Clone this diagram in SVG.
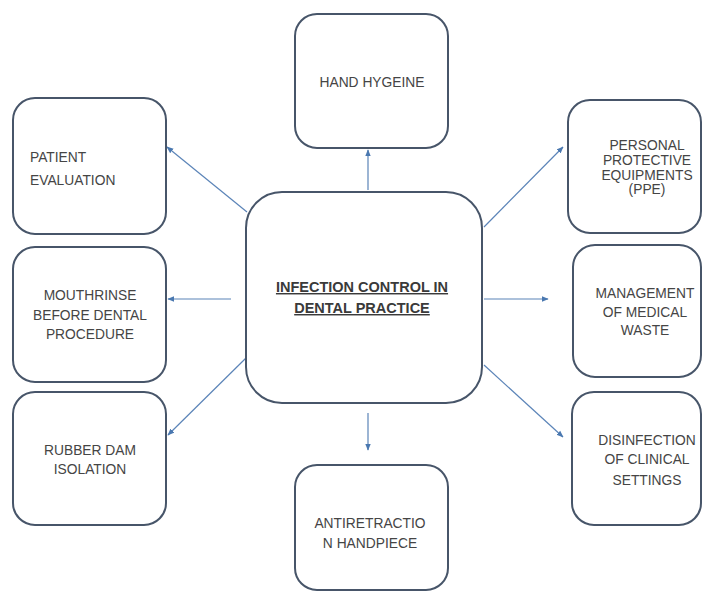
<svg xmlns="http://www.w3.org/2000/svg" width="716" height="596" viewBox="0 0 716 596">
<defs>
<marker id="ah" viewBox="0 0 10 10" refX="9" refY="5" markerWidth="7" markerHeight="7" markerUnits="userSpaceOnUse" orient="auto">
<path d="M0,1 L10,5 L0,9 z" fill="#4a78b0"/>
</marker>
<style>
.box{fill:#ffffff;stroke:#475569;stroke-width:2}
.t{font-family:"Liberation Sans",Arial,sans-serif;font-size:13.8px;fill:#454545;text-anchor:middle}
.tl{text-anchor:start}
.c{font-weight:bold;text-decoration:underline;font-size:14.5px;fill:#3a3a3a}
.con{stroke:#5b84b8;stroke-width:1.2;fill:none;marker-end:url(#ah)}
</style>
</defs>
<rect width="716" height="596" fill="#ffffff"/>
<g id="connectors">
<line class="con" x1="368" y1="190" x2="368" y2="150"/>
<line class="con" x1="247" y1="212" x2="167" y2="147"/>
<line class="con" x1="484" y1="227" x2="563" y2="147"/>
<line class="con" x1="231" y1="299" x2="168" y2="299"/>
<line class="con" x1="484" y1="299" x2="548" y2="299"/>
<line class="con" x1="246" y1="358" x2="168" y2="435"/>
<line class="con" x1="484" y1="365" x2="563" y2="437"/>
<line class="con" x1="368" y1="413" x2="368" y2="450"/>
</g>
<g id="center">
<rect class="box" x="246" y="192" width="236" height="211" rx="36"/>
<text class="t c" x="362" y="292">INFECTION CONTROL IN</text>
<text class="t c" x="362" y="313">DENTAL PRACTICE</text>
</g>
<g id="hand-hygeine">
<rect class="box" x="295" y="14" width="153" height="134" rx="22"/>
<text class="t" x="372" y="87">HAND HYGEINE</text>
</g>
<g id="patient-evaluation">
<rect class="box" x="13" y="98" width="153" height="136" rx="22"/>
<text class="t tl" x="30" y="162">PATIENT</text>
<text class="t tl" x="30" y="185">EVALUATION</text>
</g>
<g id="ppe">
<rect class="box" x="568" y="100" width="133" height="133" rx="22"/>
<text class="t" x="647" y="150">PERSONAL</text>
<text class="t" x="647" y="165">PROTECTIVE</text>
<text class="t" x="647" y="180">EQUIPMENTS</text>
<text class="t" x="647" y="194">(PPE)</text>
</g>
<g id="mouthrinse">
<rect class="box" x="13" y="247" width="153" height="135" rx="22"/>
<text class="t" x="90" y="300">MOUTHRINSE</text>
<text class="t" x="90" y="320">BEFORE DENTAL</text>
<text class="t" x="90" y="339">PROCEDURE</text>
</g>
<g id="medical-waste">
<rect class="box" x="573" y="245" width="128" height="132" rx="22"/>
<text class="t" x="645" y="298">MANAGEMENT</text>
<text class="t" x="645" y="317">OF MEDICAL</text>
<text class="t" x="645" y="335">WASTE</text>
</g>
<g id="rubber-dam">
<rect class="box" x="13" y="392" width="153" height="133" rx="22"/>
<text class="t" x="90" y="455">RUBBER DAM</text>
<text class="t" x="90" y="474">ISOLATION</text>
</g>
<g id="disinfection">
<rect class="box" x="572" y="392" width="129" height="133" rx="22"/>
<text class="t" x="647" y="445">DISINFECTION</text>
<text class="t" x="647" y="464">OF CLINICAL</text>
<text class="t" x="647" y="485">SETTINGS</text>
</g>
<g id="antiretraction">
<rect class="box" x="295" y="465" width="153" height="125" rx="22"/>
<text class="t" x="370" y="528">ANTIRETRACTIO</text>
<text class="t" x="370" y="548">N HANDPIECE</text>
</g>
</svg>
